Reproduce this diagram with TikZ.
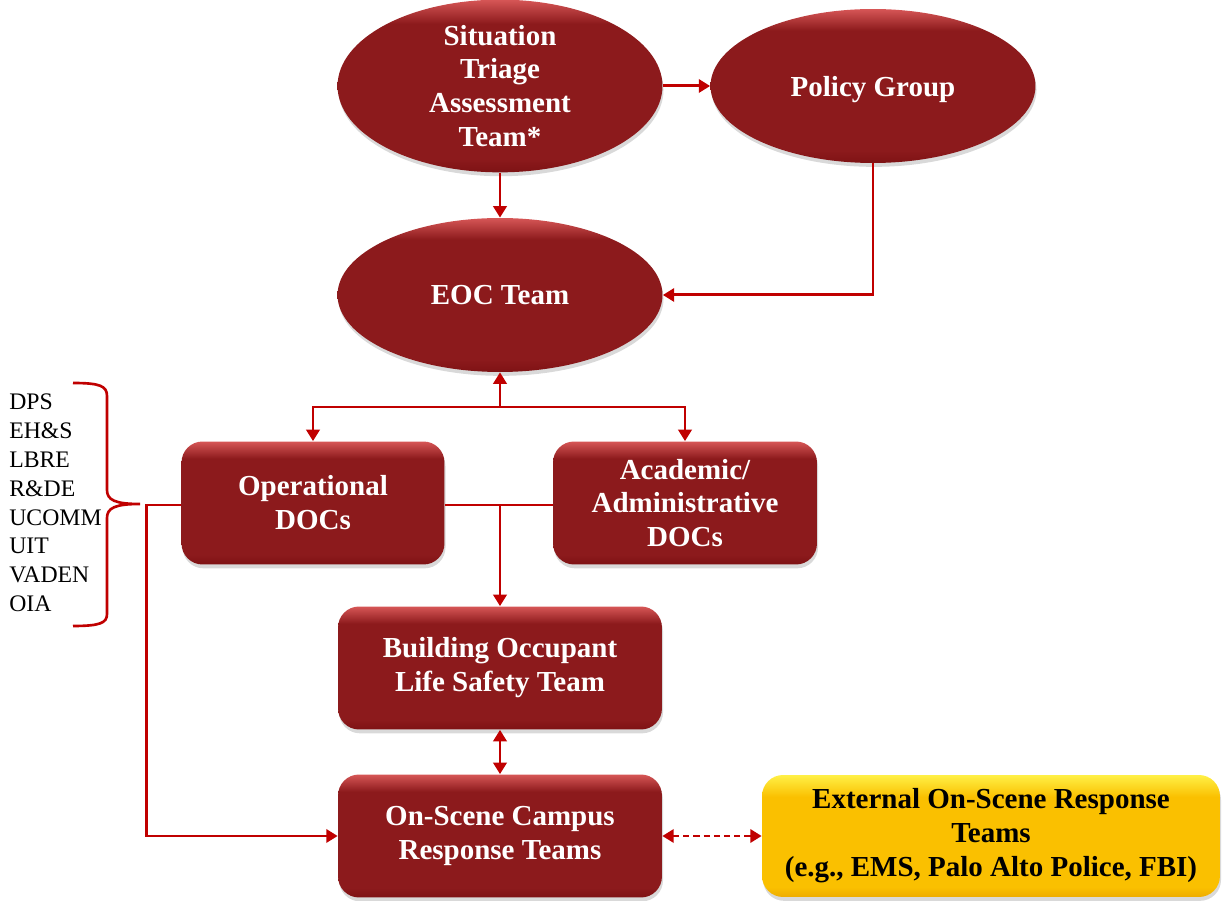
\documentclass[tikz,border=0pt]{standalone}
\usepackage{fontspec}
\setmainfont{Liberation Serif}
\usetikzlibrary{arrows.meta,shapes.geometric,shadows}
\definecolor{lnred}{RGB}{192,0,0}
\definecolor{rtop}{RGB}{214,86,86}
\definecolor{rmid}{RGB}{140,26,28}
\definecolor{rbot}{RGB}{126,18,20}
\definecolor{ytop}{RGB}{255,240,70}
\definecolor{ymid}{RGB}{250,192,0}
\definecolor{ybot}{RGB}{238,172,0}
\pgfdeclareverticalshading{redbevel}{100bp}{color(0bp)=(rbot); color(25bp)=(rbot); color(29bp)=(rmid); color(68bp)=(rmid); color(75bp)=(rtop); color(100bp)=(rtop)}
\pgfdeclareverticalshading{yellowbevel}{100bp}{color(0bp)=(ybot); color(25bp)=(ybot); color(29bp)=(ymid); color(66bp)=(ymid); color(75bp)=(ytop); color(100bp)=(ytop)}
\tikzset{
  lbl/.style={font=\fontsize{16.5}{19.3}\selectfont\bfseries, align=center, inner sep=0pt},
  shad/.style={drop shadow={opacity=0.3, shadow xshift=0.6pt, shadow yshift=-2.2pt}},
  ell/.style={lbl, ellipse, shad, shading=redbevel, text=white, minimum width=6.5cm, minimum height=3.08cm},
  rbox/.style={lbl, rectangle, rounded corners=0.42cm, shad, shading=redbevel, text=white, minimum height=2.46cm},
  ybox/.style={lbl, rectangle, rounded corners=0.42cm, shad, shading=yellowbevel, text=black, minimum width=9.16cm, minimum height=2.44cm},
  conn/.style={draw=lnred, line width=1.7pt, -{Triangle[length=6.5pt,width=7.5pt]}},
  dconn/.style={draw=lnred, line width=1.7pt, {Triangle[length=6.5pt,width=7.5pt]}-{Triangle[length=6.5pt,width=7.5pt]}},
  plain/.style={draw=lnred, line width=1.7pt},
  bracestyle/.style={draw=lnred, line width=1.5pt},
  listtxt/.style={font=\fontsize{13.5}{16.4}\selectfont, align=left, inner sep=0pt}
}
\begin{document}
\begin{tikzpicture}[x=0.02cm, y=-0.02cm]
\useasboundingbox (0,0) rectangle (1225,901);
% nodes
\node[ell] (stat) at (500,86) {Situation\\Triage\\Assessment\\Team*};
\node[ell, text depth=0pt] (policy) at (873,86) {Policy Group};
\node[ell] (eoc) at (500,295) {EOC Team};
\node[rbox, minimum width=5.26cm] (opdocs) at (313,503) {Operational\\DOCs};
\node[rbox, minimum width=5.28cm] (acad) at (685,503) {Academic/\\Administrative\\DOCs};
\node[rbox, minimum width=6.48cm] (bols) at (500,668) {Building Occupant\\Life Safety Team};
\node[rbox, minimum width=6.48cm] (oscrt) at (500,836) {On-Scene Campus\\Response Teams};
\node[ybox] (ext) at (991,836) {External On-Scene Response\\Teams\\(e.g., EMS, Palo Alto Police, FBI)};
\node[listtxt, anchor=west] (units) at (9,503) {DPS\\EH\&S\\LBRE\\R\&DE\\UCOMM\\UIT\\VADEN\\OIA};
% brace
\draw[bracestyle] (73,383) .. controls (100,383) and (107,386) .. (107,396) -- (107,490) .. controls (107,500) and (115,504) .. (140,504) .. controls (115,504) and (107,508) .. (107,518) -- (107,614) .. controls (107,623) and (100,626) .. (73,626);
% coordinates
\coordinate (jtop) at (500,407);
\coordinate (jmid) at (500,505);
% connectors
\draw[conn] (stat) -- (policy);
\draw[conn] (stat) -- (eoc);
\draw[conn] (policy.south) |- (eoc.east);
\draw[conn] (jtop) -- (eoc.south);
\draw[conn] (jtop) -| (opdocs.north);
\draw[conn] (jtop) -| (acad.north);
\draw[plain] (opdocs.east |- jmid) -- (acad.west |- jmid);
\draw[conn] (jmid) -- (bols.north);
\draw[dconn] (bols.south) -- (oscrt.north);
\draw[conn] (opdocs.west |- jmid) -- ++(-35,0) |- (oscrt.west);
\draw[dconn, dash pattern=on 3.5pt off 2.3pt] (oscrt.east) -- (ext.west);
\end{tikzpicture}
\end{document}
